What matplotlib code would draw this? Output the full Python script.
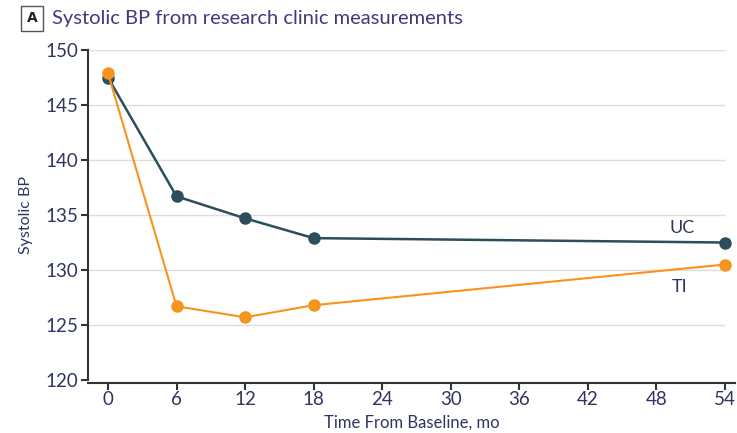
import matplotlib
matplotlib.use('Agg')
import matplotlib.pyplot as plt

plt.rcParams['font.family'] = ['Lato', 'DejaVu Sans']

months = [0, 6, 12, 18, 54]
uc_bp = [147.5, 136.7, 134.7, 132.9, 132.5]
ti_bp = [147.9, 126.7, 125.7, 126.8, 130.5]
xticks = [0, 6, 12, 18, 24, 30, 36, 42, 48, 54]
yticks = [120, 125, 130, 135, 140, 145, 150]

uc_col = '#2c4e5b'
ti_col = '#f7941d'
txt_col = '#2e3560'

fig = plt.figure(figsize=(7.37, 4.33), dpi=100)
ax = fig.add_axes([0.1194, 0.1224, 0.878, 0.762])

for y in yticks[1:]:
    ax.hlines(y, -1.75, 54, color='#dddddd', lw=1, zorder=0)

ax.plot(months, uc_bp, color=uc_col, lw=1.8, marker='o', ms=8, zorder=3)
ax.plot(months, ti_bp, color=ti_col, lw=1.5, marker='o', ms=8, zorder=4)

ax.text(50.3, 133.8, 'UC', color=txt_col, fontsize=13, ha='center', va='center')
ax.text(50.0, 128.5, 'TI', color=txt_col, fontsize=13, ha='center', va='center')

ax.set_xlim(-1.75, 54.9)
ax.set_ylim(120, 150)
ax.set_xticks(xticks)
ax.set_yticks(yticks)
ax.tick_params(colors='#333333', labelcolor=txt_col, labelsize=13.5, length=5, width=1.5)
ax.tick_params(axis='x', pad=1)
ax.tick_params(axis='y', pad=2)
ax.spines['top'].set_visible(False)
ax.spines['right'].set_visible(False)
ax.spines['left'].set_linewidth(1.5)
ax.spines['bottom'].set_linewidth(1.5)
ax.spines['left'].set_color('#333333')
ax.spines['bottom'].set_color('#333333')
ax.spines['bottom'].set_position(('outward', 2))

ax.set_xlabel('Time From Baseline, mo', color=txt_col, fontsize=12, labelpad=5)
ax.set_ylabel('Systolic BP', color=txt_col, fontsize=11.5, labelpad=9)

fig.text(0.0435, 0.958, 'A', fontsize=10, weight='bold', family='DejaVu Sans', color='#222222',
         ha='center', va='center',
         bbox=dict(boxstyle='square,pad=0.4', fc='white', ec='#555555', lw=1))
fig.text(0.071, 0.958, 'Systolic BP from research clinic measurements', fontsize=14.5,
         color='#3d3a80', ha='left', va='center')

fig.savefig('out.png', dpi=100)
